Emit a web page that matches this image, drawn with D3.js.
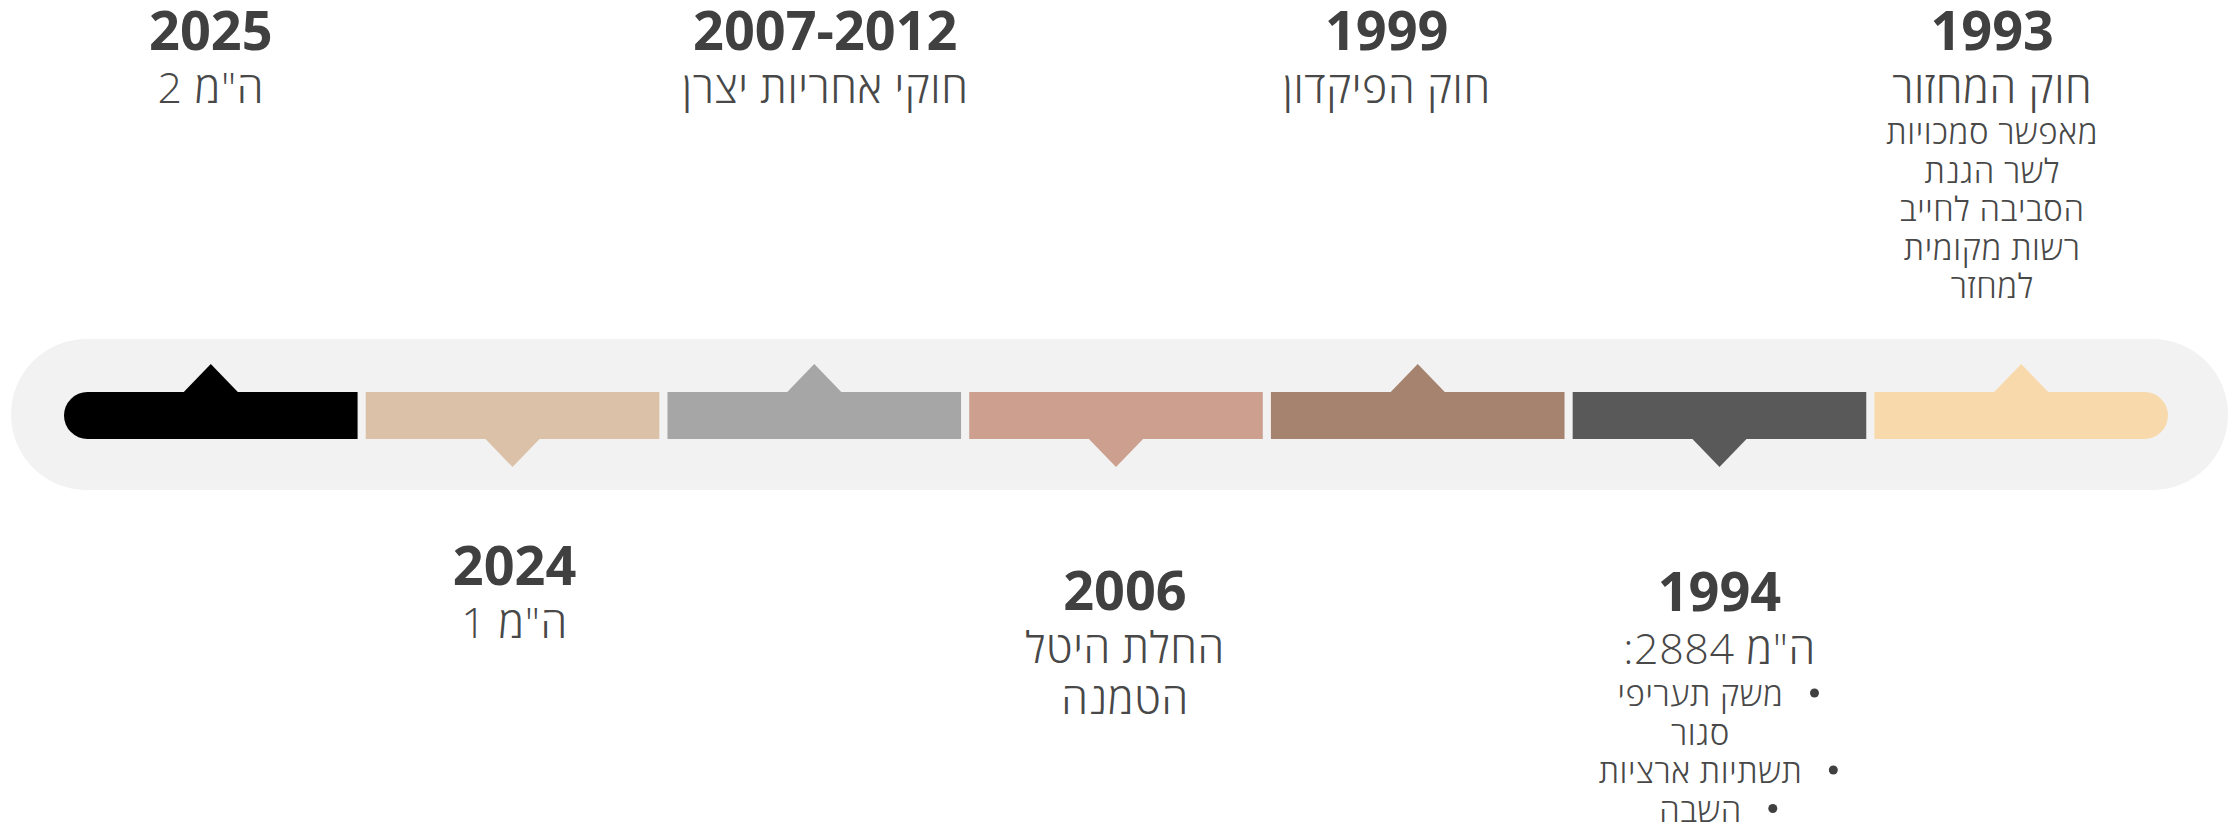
<!DOCTYPE html>
<html>
<head>
<meta charset="utf-8">
<script src="https://cdn.jsdelivr.net/npm/d3@7"></script>
<style>
  html, body { margin: 0; padding: 0; background: #ffffff; }
  svg { display: block; }
</style>
</head>
<body>
<svg id="chart" width="2239" height="824"></svg>
<script>
// ---------------- DATA ----------------
const years = ["2025", "2024", "2007-2012", "2006", "1999", "1994", "1993"];
const descriptions = [
  ["ה\"מ 2"],
  ["ה\"מ 1"],
  ["חוקי אחריות יצרן"],
  ["החלת היטל", "הטמנה"],
  ["חוק הפיקדון"],
  ["ה\"מ 2884:"],
  ["חוק המחזור"]
];
const details = [
  [], [], [], [], [], [],
  ["מאפשר סמכויות", "לשר הגנת", "הסביבה לחייב", "רשות מקומית", "למחזר"]
];
const bulletItems = [
  [], [], [], [], [],
  [["משק תעריפי", "סגור"], ["תשתיות ארציות"], ["השבה"]],
  []
];
const sides = ["up", "down", "up", "down", "up", "down", "up"];
const colors = ["#000000", "#dbc1a8", "#a6a6a6", "#cc9f8f", "#a6836e", "#595959", "#f8d9ab"];

// ---------------- LAYOUT ----------------
const W = 2239, H = 824;
const barTop = 392, barBottom = 439, tri = 28;
const labelShift = [0, 2, 11, 9, -31, 0, -29];
const listShift = -19;
const downTitleY = { "2024": 585, "2006": 610, "1994": 611 };
const textColor = "#404040";
const font = "'Open Sans', 'Noto Sans', sans-serif";

const svg = d3.select("#chart");

// background pill
svg.append("rect")
  .attr("x", 11).attr("y", 339)
  .attr("width", 2217).attr("height", 151)
  .attr("rx", 75.5).attr("ry", 75.5)
  .attr("fill", "#f2f2f2");

const x = d3.scaleBand()
  .domain(years)
  .range([64, 2168])
  .paddingInner(0.027)
  .paddingOuter(0);

const bw = x.bandwidth();
const r = (barBottom - barTop) / 2;
const n = years.length;

function barPath(i) {
  const x0 = x(years[i]), x1 = x0 + bw;
  const p = d3.path();
  if (i === 0) {
    p.moveTo(x0 + r, barTop);
    p.lineTo(x1, barTop);
    p.lineTo(x1, barBottom);
    p.lineTo(x0 + r, barBottom);
    p.arc(x0 + r, barTop + r, r, Math.PI / 2, 3 * Math.PI / 2);
  } else if (i === n - 1) {
    p.moveTo(x0, barTop);
    p.lineTo(x1 - r, barTop);
    p.arc(x1 - r, barTop + r, r, -Math.PI / 2, Math.PI / 2);
    p.lineTo(x0, barBottom);
  } else {
    p.rect(x0, barTop, bw, barBottom - barTop);
  }
  p.closePath();
  return p.toString();
}

function triPath(i) {
  const cx = x(years[i]) + bw / 2;
  if (sides[i] === "up") {
    return `M${cx - tri},${barTop + 1}L${cx},${barTop - tri}L${cx + tri},${barTop + 1}Z`;
  }
  return `M${cx - tri},${barBottom - 1}L${cx},${barBottom + tri}L${cx + tri},${barBottom - 1}Z`;
}

const seg = svg.append("g").selectAll("g")
  .data(years)
  .join("g");

seg.append("path").attr("d", (d, i) => barPath(i)).attr("fill", (d, i) => colors[i]);
seg.append("path").attr("d", (d, i) => triPath(i)).attr("fill", (d, i) => colors[i]);

// ---------------- LABELS ----------------
function lightText(g, tx, ty, size, line) {
  return g.append("text")
    .attr("x", tx).attr("y", ty)
    .attr("text-anchor", "middle")
    .attr("direction", "rtl")
    .attr("font-family", font)
    .attr("font-weight", 300)
    .attr("font-size", size)
    .attr("letter-spacing", 0.6)
    .attr("fill", "#484848")
    .text(line);
}

years.forEach((yr, i) => {
  const cx = x(yr) + bw / 2 + labelShift[i];
  const g = svg.append("g");
  const titleY = sides[i] === "up" ? 50 : downTitleY[yr];
  const descY0 = titleY + 53;

  g.append("text")
    .attr("x", cx).attr("y", titleY)
    .attr("text-anchor", "middle")
    .attr("font-family", font)
    .attr("font-weight", 700)
    .attr("font-size", 54)
    .attr("fill", textColor)
    .text(yr);

  descriptions[i].forEach((line, j) => {
    lightText(g, cx, descY0 + j * 51, 43, line);
  });

  const lastDescY = descY0 + (descriptions[i].length - 1) * 51;

  details[i].forEach((line, j) => {
    lightText(g, cx, lastDescY + 41 + j * 38.5, 33, line);
  });

  let k = 0;
  const lx = cx + listShift;
  bulletItems[i].forEach(item => {
    item.forEach((line, j) => {
      const ly = lastDescY + 42 + k * 38.5;
      const t = lightText(g, lx, ly, 33, line);
      if (j === 0) {
        const w = t.node().getComputedTextLength();
        g.append("circle")
          .attr("cx", lx + w / 2 + 31)
          .attr("cy", ly - 13)
          .attr("r", 4.5)
          .attr("fill", textColor);
      }
      k++;
    });
  });
});
</script>
</body>
</html>
